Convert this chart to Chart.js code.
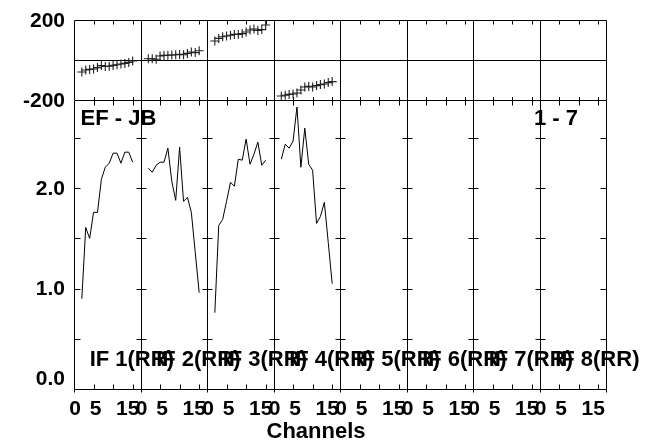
<!DOCTYPE html>
<html>
<head>
<meta charset="utf-8">
<script src="https://cdn.jsdelivr.net/npm/chart.js@4.4.1/dist/chart.umd.min.js"></script>
<style>
html,body{margin:0;padding:0;background:#fff;}
#wrap{position:relative;width:647px;height:442px;background:#fff;}
#wrap canvas{position:absolute;left:0;top:0;}
</style>
</head>
<body>
<div id="wrap">
<canvas id="phase" width="647" height="442"></canvas>
<canvas id="amp" width="647" height="442"></canvas>
</div>
<script>
// ---------------- data ----------------
const channels = [2, 3, 4, 5, 6, 7, 8, 9, 10, 11, 12, 13, 14, 15];
const ifLabels = ["IF 1(RR)", "IF 2(RR)", "IF 3(RR)", "IF 4(RR)", "IF 5(RR)", "IF 6(RR)", "IF 7(RR)", "IF 8(RR)"];

const ampIF1 = [0.90, 1.61, 1.50, 1.76, 1.76, 2.09, 2.21, 2.25, 2.35, 2.35, 2.25, 2.36, 2.36, 2.26];
const ampIF2 = [2.20, 2.16, 2.23, 2.26, 2.26, 2.40, 2.07, 1.88, 2.41, 1.87, 1.91, 1.76, 1.36, 0.96];
const ampIF3 = [0.76, 1.63, 1.69, 1.87, 2.06, 2.02, 2.29, 2.28, 2.49, 2.24, 2.34, 2.46, 2.23, 2.28];
const ampIF4 = [2.29, 2.44, 2.40, 2.47, 2.81, 2.21, 2.60, 2.24, 2.18, 1.65, 1.72, 1.86, 1.46, 1.05];

const phaseIF1 = [-60, -50, -47, -45, -38, -28, -32, -31, -27, -24, -20, -17, -12, -5];
const phaseIF2 = [6, 6, 4, 20, 23, 24, 25, 26, 28, 26, 33, 40, 37, 46];
const phaseIF3 = [95, 108, 116, 120, 124, 128, 128, 132, 140, 150, 155, 148, 152, 175];
const phaseIF4 = [-180, -176, -172, -170, -165, -150, -135, -132, -135, -128, -123, -120, -113, -108];

const xTickValues = [0, 5, 15];
const xTickLabels = ["0", "5", "15"];
const xMinorTicks = [5, 10, 15];
const ampTickValues = [0, 1, 2];
const ampTickLabels = ["0.0", "1.0", "2.0"];
const ampMinorTicks = [0.5, 1, 1.5, 2, 2.5];
const phaseTickValues = [-200, 200];
const phaseTickLabels = ["-200", "200"];
const baselineLabel = "EF - JB";
const sourceLabel = "1 - 7";
const xTitle = "Channels";

// ---------------- layout helpers ----------------
const SPAN = 17;                       // axis width of one IF panel, in channels
const NPANEL = ifLabels.length;
const FONT = "'Liberation Sans', Arial, Helvetica, sans-serif";
const crisp = v => Math.round(v) + 0.5;

const ampSeries = [ampIF1, ampIF2, ampIF3, ampIF4];
const phaseSeries = [phaseIF1, phaseIF2, phaseIF3, phaseIF4];

function seriesPoints(vals, panel) {
  return channels.map((c, j) => ({ x: panel * SPAN + c, y: vals[j] }));
}

function line(ctx, x1, y1, x2, y2) {
  ctx.beginPath(); ctx.moveTo(x1, y1); ctx.lineTo(x2, y2); ctx.stroke();
}

// ---------------- phase panel ----------------
const phaseFrame = {
  id: 'phaseFrame',
  beforeDatasetsDraw(chart) {
    const { ctx, chartArea: a, scales: { x, y } } = chart;
    ctx.save();
    ctx.strokeStyle = '#000';
    ctx.lineWidth = 1;
    const T = crisp(a.top), B = Math.round(a.bottom);
    const Z = crisp(y.getPixelForValue(0));
    line(ctx, crisp(a.left), Z, crisp(a.right), Z);
    line(ctx, crisp(a.left), T, crisp(a.right), T);
    for (let k = 0; k <= NPANEL; k++) {
      const X = crisp(x.getPixelForValue(k * SPAN));
      line(ctx, X, T, X, B);
    }
    for (let p = 0; p < NPANEL; p++) {
      xMinorTicks.forEach(m => {
        const X = crisp(x.getPixelForValue(p * SPAN + m));
        line(ctx, X, T, X, T + 4);
        line(ctx, X, B, X, B - 3);
      });
    }
    ctx.restore();
  },
  afterDraw(chart) {
    const { ctx, scales: { y } } = chart;
    ctx.save();
    ctx.fillStyle = '#000';
    ctx.font = 'bold 21px ' + FONT;
    ctx.textAlign = 'right';
    ctx.textBaseline = 'middle';
    phaseTickValues.forEach((v, i) => {
      ctx.fillText(phaseTickLabels[i], 65, y.getPixelForValue(v) + 1.5);
    });
    ctx.restore();
  }
};

new Chart(document.getElementById('phase'), {
  type: 'scatter',
  data: {
    datasets: phaseSeries.map((vals, i) => ({
      label: ifLabels[i] + ' phase',
      data: seriesPoints(vals, i),
      showLine: false,
      pointStyle: 'cross',
      pointRadius: 4.5,
      pointBorderWidth: 1.1,
      borderColor: '#222',
      backgroundColor: '#222'
    }))
  },
  options: {
    responsive: false,
    animation: false,
    events: [],
    layout: { padding: { left: 74, right: 41, top: 20, bottom: 342 } },
    plugins: { legend: { display: false }, tooltip: { enabled: false } },
    scales: {
      x: { type: 'linear', min: 0, max: SPAN * NPANEL, display: false },
      y: { type: 'linear', min: -200, max: 200, display: false }
    }
  },
  plugins: [phaseFrame]
});

// ---------------- amplitude panel ----------------
const ampFrame = {
  id: 'ampFrame',
  beforeDatasetsDraw(chart) {
    const { ctx, chartArea: a, scales: { x, y } } = chart;
    ctx.save();
    ctx.strokeStyle = '#000';
    ctx.lineWidth = 1;
    const T = crisp(a.top), B = crisp(a.bottom);
    line(ctx, crisp(a.left), T, crisp(a.right), T);
    line(ctx, crisp(a.left), B, crisp(a.right), B);
    for (let k = 0; k <= NPANEL; k++) {
      const X = crisp(x.getPixelForValue(k * SPAN));
      line(ctx, X, T, X, B + 3);
      ampMinorTicks.forEach(v => {
        const Y = crisp(y.getPixelForValue(v));
        if (k === 0) line(ctx, X, Y, X + 6, Y);
        else if (k === NPANEL) line(ctx, X - 6, Y, X, Y);
        else line(ctx, X - 5, Y, X + 5, Y);
      });
    }
    for (let p = 0; p < NPANEL; p++) {
      xMinorTicks.forEach(m => {
        const X = crisp(x.getPixelForValue(p * SPAN + m));
        line(ctx, X, T, X, T + 5);
        line(ctx, X, B, X, B - 5);
      });
    }
    ctx.restore();
  },
  afterDraw(chart) {
    const { ctx, chartArea: a, scales: { x, y } } = chart;
    ctx.save();
    ctx.fillStyle = '#000';
    ctx.textBaseline = 'middle';
    ctx.font = 'bold 21px ' + FONT;
    ctx.textAlign = 'right';
    ampTickValues.forEach((v, i) => {
      const yy = v === 0 ? y.getPixelForValue(v) - 10 : y.getPixelForValue(v) + 1;
      ctx.fillText(ampTickLabels[i], 65, yy);
    });
    ctx.textAlign = 'center';
    const nudge = [1, 2, -5];
    for (let p = 0; p < NPANEL; p++) {
      xTickValues.forEach((v, i) => {
        ctx.fillText(xTickLabels[i], x.getPixelForValue(p * SPAN + v) + nudge[i], a.bottom + 20);
      });
    }
    ctx.font = 'bold 22px ' + FONT;
    ctx.fillText(xTitle, 316, 431.5);
    ctx.textAlign = 'left';
    ctx.fillText(baselineLabel, a.left + 6.5, a.top + 18.5);
    ctx.textAlign = 'right';
    ctx.fillText(sourceLabel, 578, a.top + 18.5);
    ctx.textAlign = 'left';
    ifLabels.forEach((lab, p) => {
      ctx.fillText(lab, x.getPixelForValue(p * SPAN + 4), 360);
    });
    ctx.restore();
  }
};

new Chart(document.getElementById('amp'), {
  type: 'line',
  data: {
    datasets: ampSeries.map((vals, i) => ({
      label: ifLabels[i] + ' amplitude',
      data: seriesPoints(vals, i),
      borderColor: '#000',
      borderWidth: 1,
      pointRadius: 0,
      tension: 0,
      fill: false
    }))
  },
  options: {
    responsive: false,
    animation: false,
    events: [],
    layout: { padding: { left: 74, right: 41, top: 100, bottom: 53 } },
    plugins: { legend: { display: false }, tooltip: { enabled: false } },
    scales: {
      x: { type: 'linear', min: 0, max: SPAN * NPANEL, display: false },
      y: { type: 'linear', min: 0, max: 2.88, display: false }
    }
  },
  plugins: [ampFrame]
});
</script>
</body>
</html>
